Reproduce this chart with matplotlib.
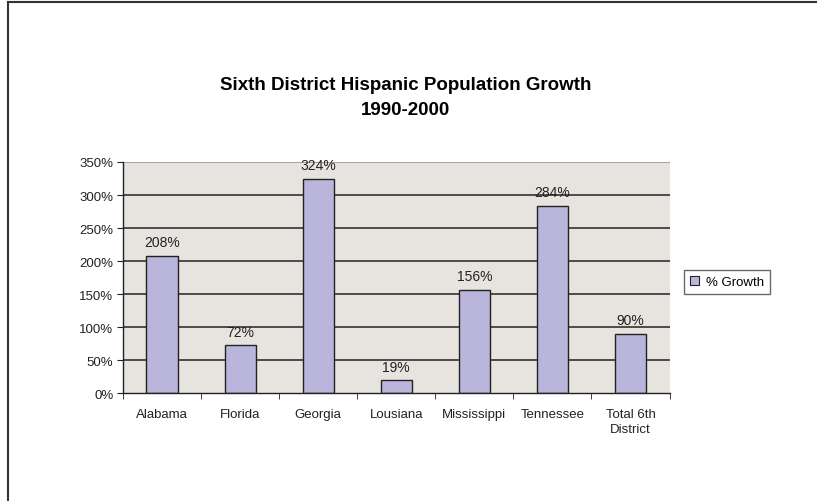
import numpy as np
import matplotlib
matplotlib.use("Agg")
import matplotlib.pyplot as plt
from matplotlib.lines import Line2D
from matplotlib.patches import Patch

states = ["Alabama", "Florida", "Georgia", "Lousiana", "Mississippi",
          "Tennessee", "Total 6th\nDistrict"]
growth = [208, 72, 324, 19, 156, 284, 90]
yticks = [0, 50, 100, 150, 200, 250, 300, 350]

plt.rcParams["font.family"] = ["Liberation Sans", "DejaVu Sans"]

BAR = "#b9b5db"
BG = "#e7e4df"

fig = plt.figure(figsize=(8.17, 5.02), dpi=100)
ax = fig.add_axes([0.1506, 0.2151, 0.6689, 0.4602])
ax.set_facecolor(BG)

x = np.arange(len(states))
for y in yticks[1:-1]:
    ax.axhline(y, color="#222222", lw=1.1, zorder=1)
ax.axhline(350, color="#999999", lw=0.6, zorder=1)
ax.bar(x, growth, width=0.4, color=BAR, edgecolor="#222222", lw=1.0,
       zorder=2)
for xi, v in zip(x, growth):
    ax.annotate(f"{v}%", (xi, v), xytext=(0, 5), textcoords="offset points",
                ha="center", va="bottom", fontsize=10, color="#222222")

ax.set_xlim(-0.5, len(states) - 0.5)
ax.set_ylim(0, 350)
ax.set_yticks(yticks)
ax.set_yticklabels([f"{t}%" for t in yticks], fontsize=9.5, color="#222222")
ax.set_xticks(x)
ax.set_xticklabels(states, fontsize=9.5, color="#222222", linespacing=1.3)
ax.set_xticks(np.arange(-0.5, len(states)), minor=True)
ax.tick_params(axis="x", which="major", length=0, pad=11)
ax.tick_params(axis="x", which="minor", length=4, direction="out",
               color="#222222")
ax.tick_params(axis="y", length=4, direction="out", color="#222222", pad=3)
for s in ("top", "right"):
    ax.spines[s].set_visible(False)
for s in ("left", "bottom"):
    ax.spines[s].set_color("#222222")
    ax.spines[s].set_linewidth(1.0)

fig.text(0.496, 0.83, "Sixth District Hispanic Population Growth",
         ha="center", va="center", fontsize=13.5, fontweight="bold")
fig.text(0.496, 0.78, "1990-2000", ha="center", va="center",
         fontsize=13.5, fontweight="bold")

handle = Patch(facecolor=BAR, edgecolor="#222222", lw=0.8)
fig.legend([handle], ["% Growth"], loc="center left",
           bbox_to_anchor=(0.837, 0.437), fontsize=9.5, frameon=True,
           fancybox=False, edgecolor="#444444", handlelength=0.7,
           handleheight=0.7, handletextpad=0.5, borderpad=0.45,
           borderaxespad=0)

# outer chart frame (left and top edges visible)
fig.add_artist(Line2D([0.0098, 0.0098], [0.0, 0.994], color="#333333",
                      lw=1.5, transform=fig.transFigure))
fig.add_artist(Line2D([0.0098, 1.0], [0.994, 0.994], color="#333333",
                      lw=1.5, transform=fig.transFigure))

fig.savefig("out.png", dpi=100)
